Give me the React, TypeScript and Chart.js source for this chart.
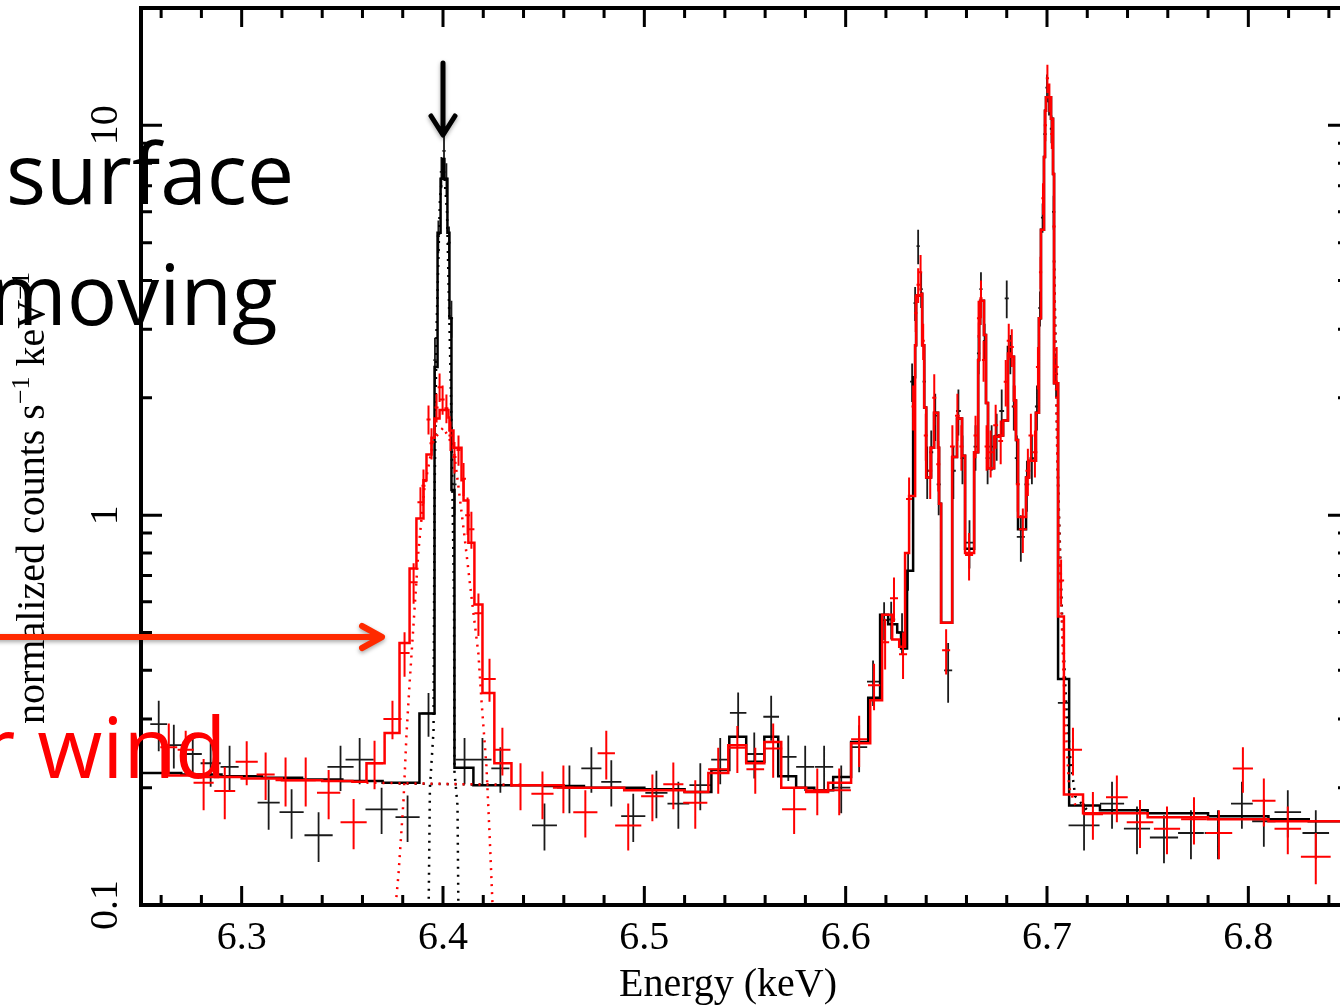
import React, { useEffect, useRef } from "react";
import { Chart, registerables } from "chart.js";

Chart.register(...registerables);

const W = 1352;
const H = 1006;

// axis ranges
const X_MIN = 6.25;
const X_MAX = 6.85;
const Y_MIN = 0.1;
const Y_MAX = 20;

// tick values
const xMajorTicks = [6.3, 6.4, 6.5, 6.6, 6.7, 6.8];
const xTickLabels = ["6.3", "6.4", "6.5", "6.6", "6.7", "6.8"];
const xMinorTicks = [
  6.26, 6.28, 6.32, 6.34, 6.36, 6.38, 6.42, 6.44, 6.46, 6.48, 6.52, 6.54, 6.56, 6.58,
  6.62, 6.64, 6.66, 6.68, 6.72, 6.74, 6.76, 6.78, 6.82, 6.84,
];
const yMajorTicks = [0.1, 1, 10];
const yTickLabels = ["0.1", "1", "10"];
const yMinorTicks = [0.2, 0.3, 0.4, 0.5, 0.6, 0.7, 0.8, 0.9, 2, 3, 4, 5, 6, 7, 8, 9];

// data crosses: [energy keV, half bin width, value, error]
const blackCrosses: number[][] = [
  [6.2588, 0.0042, 0.291, 0.043],
  [6.2663, 0.0047, 0.257, 0.033],
  [6.2757, 0.0045, 0.244, 0.032],
  [6.2846, 0.005, 0.231, 0.03],
  [6.294, 0.0045, 0.226, 0.03],
  [6.3134, 0.0055, 0.183, 0.027],
  [6.3248, 0.006, 0.173, 0.025],
  [6.3382, 0.007, 0.151, 0.022],
  [6.3491, 0.0065, 0.226, 0.03],
  [6.3586, 0.007, 0.236, 0.032],
  [6.3695, 0.008, 0.176, 0.024],
  [6.3824, 0.006, 0.168, 0.023],
  [6.3928, 0.0035, 0.31, 0.04],
  [6.396, 0.0008, 2.5, 0.35],
  [6.3977, 0.0008, 5.2, 0.5],
  [6.3992, 0.0008, 7.6, 0.7],
  [6.4005, 0.0008, 8.6, 0.8],
  [6.4017, 0.0008, 7.3, 0.7],
  [6.403, 0.0008, 5.0, 0.5],
  [6.4042, 0.0008, 3.2, 0.35],
  [6.4057, 0.001, 1.2, 0.2],
  [6.4107, 0.0045, 0.236, 0.032],
  [6.4196, 0.0045, 0.236, 0.032],
  [6.4285, 0.0045, 0.224, 0.03],
  [6.4504, 0.0062, 0.16, 0.022],
  [6.4628, 0.0062, 0.2, 0.028],
  [6.4737, 0.005, 0.224, 0.03],
  [6.4836, 0.005, 0.207, 0.028],
  [6.4945, 0.006, 0.169, 0.024],
  [6.506, 0.0055, 0.194, 0.027],
  [6.5169, 0.0054, 0.182, 0.025],
  [6.5278, 0.0054, 0.203, 0.028],
  [6.5377, 0.0045, 0.236, 0.032],
  [6.5466, 0.0041, 0.311, 0.04],
  [6.5546, 0.0044, 0.244, 0.033],
  [6.563, 0.0039, 0.304, 0.04],
  [6.5715, 0.0041, 0.24, 0.032],
  [6.5799, 0.0045, 0.226, 0.03],
  [6.5893, 0.0045, 0.226, 0.03],
  [6.5978, 0.0045, 0.2, 0.028],
  [6.6067, 0.004, 0.254, 0.035],
  [6.6136, 0.003, 0.374, 0.05],
  [6.6191, 0.002, 0.538, 0.06],
  [6.6226, 0.002, 0.54, 0.06],
  [6.628, 0.002, 0.5, 0.06],
  [6.631, 0.0015, 0.72, 0.08],
  [6.633, 0.001, 2.2, 0.25],
  [6.6345, 0.0008, 3.5, 0.35],
  [6.636, 0.0008, 4.9, 0.5],
  [6.6375, 0.0008, 3.8, 0.4],
  [6.639, 0.0008, 2.2, 0.3],
  [6.6405, 0.001, 1.3, 0.2],
  [6.6425, 0.001, 1.45, 0.2],
  [6.6445, 0.001, 1.8, 0.25],
  [6.6462, 0.001, 1.2, 0.2],
  [6.6509, 0.002, 0.4, 0.07],
  [6.6535, 0.0012, 1.3, 0.2],
  [6.656, 0.0012, 1.85, 0.25],
  [6.658, 0.001, 1.4, 0.2],
  [6.6615, 0.002, 0.85, 0.12],
  [6.6645, 0.001, 1.5, 0.2],
  [6.666, 0.0008, 2.6, 0.3],
  [6.6672, 0.0008, 3.8, 0.4],
  [6.669, 0.0008, 2.8, 0.3],
  [6.6705, 0.001, 1.4, 0.2],
  [6.6725, 0.0012, 1.5, 0.2],
  [6.675, 0.0012, 1.6, 0.22],
  [6.6775, 0.0012, 1.85, 0.25],
  [6.68, 0.001, 3.6, 0.4],
  [6.6818, 0.001, 2.6, 0.3],
  [6.6835, 0.001, 1.9, 0.25],
  [6.685, 0.001, 1.4, 0.2],
  [6.687, 0.002, 0.88, 0.12],
  [6.69, 0.0012, 1.2, 0.18],
  [6.6925, 0.0012, 1.4, 0.2],
  [6.695, 0.001, 1.9, 0.25],
  [6.6965, 0.0008, 3.4, 0.35],
  [6.6978, 0.0008, 5.8, 0.5],
  [6.699, 0.0008, 9.5, 0.8],
  [6.7, 0.0008, 12.5, 1.0],
  [6.701, 0.0008, 11.5, 0.9],
  [6.7022, 0.0008, 9.8, 0.8],
  [6.7033, 0.0008, 6.0, 0.6],
  [6.7045, 0.001, 2.3, 0.3],
  [6.7084, 0.003, 0.33, 0.05],
  [6.7184, 0.0077, 0.16, 0.022],
  [6.7323, 0.006, 0.182, 0.025],
  [6.7447, 0.0065, 0.157, 0.022],
  [6.7581, 0.007, 0.149, 0.021],
  [6.7715, 0.0064, 0.153, 0.022],
  [6.7849, 0.0066, 0.153, 0.022],
  [6.7968, 0.0054, 0.182, 0.025],
  [6.8077, 0.0058, 0.164, 0.023],
  [6.8196, 0.0066, 0.173, 0.024],
  [6.8335, 0.0066, 0.153, 0.022],
];

const redCrosses: number[][] = [
  [6.2638, 0.0042, 0.254, 0.038],
  [6.2722, 0.004, 0.25, 0.03],
  [6.2811, 0.005, 0.206, 0.031],
  [6.2916, 0.0052, 0.196, 0.03],
  [6.3025, 0.0055, 0.233, 0.03],
  [6.3119, 0.0045, 0.216, 0.03],
  [6.3218, 0.005, 0.209, 0.03],
  [6.3318, 0.005, 0.209, 0.03],
  [6.3432, 0.0058, 0.194, 0.028],
  [6.3556, 0.0065, 0.163, 0.024],
  [6.366, 0.0042, 0.231, 0.033],
  [6.3749, 0.0045, 0.3, 0.034],
  [6.3809, 0.0025, 0.443, 0.058],
  [6.3854, 0.002, 0.673, 0.08],
  [6.3888, 0.0015, 1.08, 0.1],
  [6.3903, 0.001, 1.19, 0.12],
  [6.3928, 0.001, 1.76, 0.15],
  [6.3943, 0.001, 1.53, 0.14],
  [6.3968, 0.001, 1.89, 0.16],
  [6.3983, 0.001, 2.13, 0.18],
  [6.3998, 0.001, 1.98, 0.17],
  [6.4017, 0.001, 1.88, 0.16],
  [6.4037, 0.001, 1.6, 0.14],
  [6.4057, 0.001, 1.41, 0.13],
  [6.4077, 0.001, 1.47, 0.13],
  [6.4102, 0.0012, 1.24, 0.12],
  [6.4122, 0.0012, 1.0, 0.11],
  [6.4141, 0.0015, 0.92, 0.1],
  [6.4176, 0.002, 0.56, 0.07],
  [6.4231, 0.0031, 0.38, 0.048],
  [6.4295, 0.004, 0.25, 0.035],
  [6.4385, 0.005, 0.203, 0.028],
  [6.4494, 0.0055, 0.193, 0.027],
  [6.4598, 0.0052, 0.2, 0.028],
  [6.4707, 0.006, 0.173, 0.024],
  [6.4811, 0.0043, 0.245, 0.035],
  [6.492, 0.0065, 0.16, 0.022],
  [6.504, 0.0056, 0.19, 0.026],
  [6.5144, 0.005, 0.204, 0.028],
  [6.5253, 0.006, 0.183, 0.026],
  [6.5367, 0.005, 0.223, 0.03],
  [6.5462, 0.0045, 0.253, 0.035],
  [6.5551, 0.0044, 0.223, 0.03],
  [6.564, 0.0045, 0.252, 0.04],
  [6.5744, 0.006, 0.176, 0.024],
  [6.5859, 0.0054, 0.197, 0.027],
  [6.5968, 0.0058, 0.197, 0.027],
  [6.6067, 0.004, 0.266, 0.04],
  [6.6141, 0.003, 0.366, 0.05],
  [6.6196, 0.002, 0.472, 0.07],
  [6.624, 0.002, 0.612, 0.08],
  [6.6285, 0.002, 0.44, 0.06],
  [6.6315, 0.0015, 1.1, 0.15],
  [6.6335, 0.0008, 1.9, 0.25],
  [6.6348, 0.0008, 3.3, 0.35],
  [6.636, 0.0008, 3.9, 0.4],
  [6.6372, 0.0008, 4.2, 0.45],
  [6.6385, 0.0008, 2.8, 0.3],
  [6.6398, 0.001, 1.6, 0.22],
  [6.642, 0.001, 1.3, 0.2],
  [6.644, 0.001, 2.0, 0.3],
  [6.646, 0.001, 1.35, 0.2],
  [6.6499, 0.002, 0.45, 0.06],
  [6.653, 0.0012, 1.5, 0.2],
  [6.6555, 0.0012, 1.8, 0.25],
  [6.6575, 0.001, 1.5, 0.2],
  [6.6613, 0.002, 0.79, 0.11],
  [6.6645, 0.001, 1.6, 0.2],
  [6.666, 0.0008, 3.2, 0.35],
  [6.6672, 0.0008, 3.6, 0.4],
  [6.6685, 0.0008, 2.5, 0.3],
  [6.67, 0.001, 1.5, 0.2],
  [6.672, 0.0012, 1.45, 0.2],
  [6.6745, 0.0012, 1.7, 0.22],
  [6.677, 0.0012, 1.55, 0.2],
  [6.6795, 0.001, 2.2, 0.3],
  [6.681, 0.001, 2.8, 0.3],
  [6.6825, 0.001, 2.7, 0.3],
  [6.684, 0.001, 1.9, 0.25],
  [6.6855, 0.001, 1.2, 0.18],
  [6.688, 0.002, 0.92, 0.12],
  [6.6905, 0.0012, 1.3, 0.18],
  [6.692, 0.0012, 1.6, 0.22],
  [6.694, 0.0012, 1.45, 0.2],
  [6.6955, 0.001, 2.4, 0.3],
  [6.6968, 0.0008, 4.2, 0.4],
  [6.698, 0.0008, 6.5, 0.6],
  [6.6992, 0.0008, 10.0, 0.9],
  [6.7002, 0.0008, 13.2, 1.1],
  [6.7012, 0.0008, 11.8, 1.0],
  [6.7024, 0.0008, 9.5, 0.8],
  [6.7035, 0.0008, 5.5, 0.5],
  [6.7048, 0.001, 2.4, 0.3],
  [6.707, 0.0015, 0.68, 0.09],
  [6.7129, 0.0045, 0.25, 0.035],
  [6.7228, 0.005, 0.171, 0.024],
  [6.7347, 0.0054, 0.189, 0.026],
  [6.7462, 0.0066, 0.163, 0.023],
  [6.7596, 0.0065, 0.157, 0.022],
  [6.773, 0.0064, 0.166, 0.023],
  [6.7854, 0.0066, 0.153, 0.022],
  [6.7973, 0.005, 0.224, 0.03],
  [6.8077, 0.0058, 0.185, 0.026],
  [6.8196, 0.0066, 0.157, 0.022],
  [6.8335, 0.0074, 0.133, 0.02],
];

// model histograms: bin left edges and values
const blackModelEdges = [
  6.25, 6.27, 6.29, 6.31, 6.33, 6.35, 6.37, 6.3883, 6.3958, 6.3973, 6.3988, 6.3998, 6.4007,
  6.4022, 6.4032, 6.4042, 6.4057, 6.4151, 6.45, 6.47, 6.5, 6.52, 6.5333, 6.5422, 6.5506,
  6.5596, 6.5665, 6.5754, 6.5844, 6.5938, 6.6027, 6.6112, 6.6171, 6.6211, 6.6256, 6.6275,
  6.6305, 6.6335, 6.6345, 6.635, 6.6375, 6.638, 6.639, 6.64, 6.6424, 6.6439, 6.6459, 6.6464,
  6.6474, 6.6529, 6.6553, 6.6578, 6.6593, 6.6638, 6.6658, 6.6663, 6.6668, 6.6687, 6.6697,
  6.6707, 6.6737, 6.6762, 6.6782, 6.6806, 6.6821, 6.6836, 6.6846, 6.6856, 6.6896, 6.6911,
  6.6945, 6.696, 6.697, 6.6985, 6.699, 6.6995, 6.702, 6.703, 6.7035, 6.7055, 6.711, 6.7263,
  6.75, 6.78, 6.81, 6.83, 6.85,
];
const blackModelValues = [
  0.218, 0.216, 0.214, 0.212, 0.21, 0.208, 0.206, 0.31, 2.4, 5.3, 7.3, 8.2, 7.3, 5.3, 3.2,
  1.16, 0.225, 0.203, 0.202, 0.2, 0.198, 0.195, 0.222, 0.27, 0.233, 0.27, 0.214, 0.2, 0.197,
  0.213, 0.262, 0.34, 0.555, 0.525, 0.5, 0.455, 0.72, 2.26, 2.73, 3.66, 3.7, 2.73, 1.89,
  1.25, 1.49, 1.83, 1.49, 1.07, 0.53, 1.41, 1.77, 1.42, 0.82, 1.45, 2.5, 3.1, 3.55, 2.9,
  1.94, 1.32, 1.59, 1.6, 1.75, 2.7, 2.55, 1.97, 1.56, 0.92, 1.25, 1.38, 1.83, 3.2, 5.4, 8.3,
  10.9, 11.8, 10.4, 7.5, 2.18, 0.38, 0.18, 0.175, 0.172, 0.169, 0.166, 0.164, 0.164,
];

const redModelEdges = [
  6.2603, 6.28, 6.3, 6.32, 6.34, 6.355, 6.362, 6.371, 6.3784, 6.3834, 6.3868, 6.3903, 6.3918,
  6.3943, 6.3958, 6.3983, 6.4027, 6.4032, 6.4052, 6.4092, 6.4102, 6.4126, 6.4156, 6.4196,
  6.4255, 6.434, 6.46, 6.49, 6.52, 6.5318, 6.5417, 6.5506, 6.5596, 6.568, 6.5804, 6.5913,
  6.6027, 6.6122, 6.6181, 6.6231, 6.6266, 6.6295, 6.6315, 6.6345, 6.635, 6.6375, 6.638,
  6.639, 6.64, 6.6424, 6.6439, 6.6459, 6.6464, 6.6474, 6.6529, 6.6553, 6.6578, 6.6593,
  6.6638, 6.6658, 6.6663, 6.6668, 6.6687, 6.6697, 6.6707, 6.6737, 6.6762, 6.6782, 6.6806,
  6.6821, 6.6836, 6.6846, 6.6856, 6.6896, 6.6911, 6.6945, 6.696, 6.697, 6.6985, 6.699,
  6.6995, 6.702, 6.703, 6.7035, 6.7055, 6.7084, 6.7179, 6.75, 6.78, 6.81, 6.85,
];
const redModelValues = [
  0.215, 0.213, 0.211, 0.209, 0.208, 0.207, 0.231, 0.276, 0.47, 0.73, 0.98, 1.23, 1.43,
  1.58, 1.77, 1.86, 1.78, 1.65, 1.49, 1.23, 1.09, 0.85, 0.59, 0.35, 0.231, 0.203, 0.2,
  0.197, 0.195, 0.218, 0.257, 0.231, 0.262, 0.2, 0.195, 0.206, 0.26, 0.335, 0.555, 0.48,
  0.46, 0.8, 1.12, 2.73, 3.66, 3.7, 2.73, 1.89, 1.25, 1.49, 1.83, 1.49, 1.07, 0.53, 1.41,
  1.77, 1.42, 0.8, 1.45, 2.5, 3.1, 3.55, 2.9, 1.94, 1.32, 1.59, 1.6, 1.75, 2.6, 2.55, 1.97,
  1.56, 0.99, 1.25, 1.38, 1.83, 3.2, 5.4, 8.3, 10.9, 11.8, 10.4, 7.5, 2.18, 0.55, 0.192,
  0.172, 0.168, 0.166, 0.164, 0.163,
];

// dotted model components
const blackLineCompE = [
  6.3928, 6.3935, 6.3953, 6.3958, 6.3968, 6.3985, 6.4002, 6.402, 6.404, 6.4055, 6.4057,
  6.4072, 6.4077,
];
const blackLineCompV = [0.09, 0.2, 0.28, 1.1, 3.0, 6.5, 8.0, 6.0, 2.0, 0.6, 0.22, 0.18, 0.09];
const redLineCompE = [
  6.3765, 6.3779, 6.3804, 6.3819, 6.3834, 6.3878, 6.3908, 6.3953, 6.4002, 6.4052, 6.4077,
  6.4107, 6.4141, 6.4176, 6.4191, 6.4216, 6.4231, 6.4246,
];
const redLineCompV = [
  0.1, 0.12, 0.186, 0.276, 0.37, 0.81, 1.18, 1.56, 1.68, 1.49, 1.18, 0.88, 0.62, 0.44,
  0.335, 0.226, 0.153, 0.1,
];
const blackPlasmaE = [6.378, 6.44, 6.7035, 6.7055, 6.7075, 6.7095, 6.7115, 6.714, 6.72];
const blackPlasmaV = [0.205, 0.203, 4.5, 1.2, 0.55, 0.33, 0.24, 0.19, 0.175];
const redPlasmaE = [6.362, 6.44, 6.7035, 6.705, 6.707, 6.709, 6.711, 6.715];
const redPlasmaV = [0.206, 0.203, 4.5, 1.5, 0.6, 0.3, 0.2, 0.175];

const RED = "#ff0000";
const BLACK = "#000000";
const SERIF = "'Liberation Serif', 'Times New Roman', serif";
const SANS = "'Open Sans', 'Noto Sans', sans-serif";

function stepData(edges: number[], values: number[]) {
  const pts = edges.map((e, i) => ({ x: e, y: values[Math.min(i, values.length - 1)] }));
  return pts;
}

const specPlugin = {
  id: "specPlugin",
  afterDatasetDraw(chart: any, args: any) {
    const ds = chart.data.datasets[args.index] as any;
    if (!ds.crosses) return;
    const { ctx, chartArea } = chart;
    const xs = chart.scales.x;
    const ys = chart.scales.y;
    ctx.save();
    ctx.beginPath();
    ctx.rect(chartArea.left, chartArea.top, chartArea.right - chartArea.left, chartArea.bottom - chartArea.top);
    ctx.clip();
    ctx.strokeStyle = ds.crossColor;
    ctx.lineWidth = ds.crossWidth;
    ctx.beginPath();
    for (const [e, hw, v, err] of ds.crosses) {
      const px = xs.getPixelForValue(e);
      const py = ys.getPixelForValue(v);
      ctx.moveTo(xs.getPixelForValue(e - hw), py);
      ctx.lineTo(xs.getPixelForValue(e + hw), py);
      const lo = Math.max(v - err, 0.01);
      ctx.moveTo(px, ys.getPixelForValue(lo));
      ctx.lineTo(px, ys.getPixelForValue(v + err));
    }
    ctx.stroke();
    ctx.restore();
  },
  afterDraw(chart: any) {
    const { ctx, chartArea } = chart;
    const xs = chart.scales.x;
    const ys = chart.scales.y;
    const { left, right, top, bottom } = chartArea;
    ctx.save();
    // frame
    ctx.strokeStyle = BLACK;
    ctx.lineWidth = 4;
    ctx.strokeRect(left, top, right - left, bottom - top);
    // ticks
    ctx.lineWidth = 3;
    ctx.beginPath();
    const xt = (vals: number[], len: number) => {
      for (const v of vals) {
        const p = xs.getPixelForValue(v);
        ctx.moveTo(p, bottom);
        ctx.lineTo(p, bottom - len);
        ctx.moveTo(p, top);
        ctx.lineTo(p, top + len);
      }
    };
    const yt = (vals: number[], len: number) => {
      for (const v of vals) {
        const p = ys.getPixelForValue(v);
        ctx.moveTo(left, p);
        ctx.lineTo(left + len, p);
        ctx.moveTo(right, p);
        ctx.lineTo(right - len, p);
      }
    };
    xt(xMajorTicks, 19);
    xt(xMinorTicks, 10);
    yt(yMajorTicks, 21);
    yt(yMinorTicks, 11);
    ctx.stroke();

    // tick labels
    ctx.fillStyle = BLACK;
    ctx.font = `40px ${SERIF}`;
    ctx.textAlign = "center";
    ctx.textBaseline = "alphabetic";
    xMajorTicks.forEach((v, i) => {
      ctx.fillText(xTickLabels[i], xs.getPixelForValue(v), 949);
    });
    yMajorTicks.forEach((v, i) => {
      ctx.save();
      ctx.translate(117, ys.getPixelForValue(v));
      ctx.rotate(-Math.PI / 2);
      ctx.fillText(yTickLabels[i], 0, 0);
      ctx.restore();
    });
    // axis titles
    ctx.fillText("Energy (keV)", 728, 996);
    ctx.save();
    ctx.translate(44, 724);
    ctx.rotate(-Math.PI / 2);
    ctx.textAlign = "left";
    let u = 0;
    const part = (t: string, size: number, raise: number) => {
      ctx.font = `${size}px ${SERIF}`;
      ctx.fillText(t, u, -raise);
      u += ctx.measureText(t).width;
    };
    part("normalized counts s", 40, 0);
    part("\u22121", 26, 15);
    part(" keV", 40, 0);
    part("\u22121", 26, 15);
    ctx.restore();

    // annotations: black arrow at 6.4 keV
    const ax = xs.getPixelForValue(6.4);
    ctx.save();
    ctx.shadowColor = "rgba(0,0,0,0.35)";
    ctx.shadowBlur = 4;
    ctx.shadowOffsetY = 2;
    ctx.strokeStyle = BLACK;
    ctx.lineWidth = 5;
    ctx.lineCap = "round";
    ctx.lineJoin = "round";
    ctx.beginPath();
    ctx.moveTo(ax, 63);
    ctx.lineTo(ax, 134);
    ctx.moveTo(ax - 12, 116);
    ctx.lineTo(ax, 135);
    ctx.lineTo(ax + 12, 116);
    ctx.stroke();
    // red arrow
    ctx.strokeStyle = "#ff2a00";
    ctx.lineWidth = 6;
    ctx.beginPath();
    ctx.moveTo(-10, 637);
    ctx.lineTo(381, 637);
    ctx.moveTo(362, 626);
    ctx.lineTo(382, 637);
    ctx.lineTo(362, 648);
    ctx.stroke();
    ctx.restore();

    // overlay words
    ctx.textAlign = "left";
    ctx.textBaseline = "alphabetic";
    ctx.font = `84px ${SANS}`;
    ctx.fillStyle = BLACK;
    ctx.fillText("surface", 6, 204);
    ctx.fillText("moving", -11, 325);
    ctx.fillStyle = RED;
    ctx.fillText("r wind", -19, 778);
    ctx.restore();
  },
};

export default function App() {
  const ref = useRef<HTMLCanvasElement>(null);
  useEffect(() => {
    if (!ref.current) return;
    const chart = new Chart(ref.current, {
      type: "scatter",
      data: {
        datasets: [
          {
            label: "red model",
            data: stepData(redModelEdges, redModelValues),
            showLine: true,
            stepped: true,
            borderColor: RED,
            borderWidth: 2.5,
            pointRadius: 0,
            order: 1,
          } as any,
          {
            label: "red data",
            data: redCrosses.map((r) => ({ x: r[0], y: r[2] })),
            crosses: redCrosses,
            crossColor: RED,
            crossWidth: 2,
            pointRadius: 0,
            order: 2,
          } as any,
          {
            label: "red gaussian",
            data: redLineCompE.map((e, i) => ({ x: e, y: redLineCompV[i] })),
            showLine: true,
            borderColor: RED,
            borderWidth: 2.5,
            borderDash: [2, 6],
            pointRadius: 0,
            order: 3,
          } as any,
          {
            label: "red plasma",
            data: redPlasmaE.map((e, i) => ({ x: e, y: redPlasmaV[i] })),
            showLine: true,
            borderColor: RED,
            borderWidth: 2.5,
            borderDash: [2, 6],
            pointRadius: 0,
            segment: { borderColor: (c: any) => (c.p0DataIndex === 1 ? "rgba(0,0,0,0)" : RED) },
            order: 4,
          } as any,
          {
            label: "black model",
            data: stepData(blackModelEdges, blackModelValues),
            showLine: true,
            stepped: true,
            borderColor: BLACK,
            borderWidth: 2.5,
            pointRadius: 0,
            order: 5,
          } as any,
          {
            label: "black gaussian",
            data: blackLineCompE.map((e, i) => ({ x: e, y: blackLineCompV[i] })),
            showLine: true,
            borderColor: BLACK,
            borderWidth: 2.5,
            borderDash: [2, 6],
            pointRadius: 0,
            order: 6,
          } as any,
          {
            label: "black plasma",
            data: blackPlasmaE.map((e, i) => ({ x: e, y: blackPlasmaV[i] })),
            showLine: true,
            borderColor: BLACK,
            borderWidth: 2.5,
            borderDash: [2, 6],
            pointRadius: 0,
            segment: { borderColor: (c: any) => (c.p0DataIndex === 1 ? "rgba(0,0,0,0)" : BLACK) },
            order: 7,
          } as any,
          {
            label: "black data",
            data: blackCrosses.map((r) => ({ x: r[0], y: r[2] })),
            crosses: blackCrosses,
            crossColor: "#1a1a1a",
            crossWidth: 1.8,
            pointRadius: 0,
            order: 8,
          } as any,
        ],
      },
      options: {
        responsive: false,
        animation: false,
        devicePixelRatio: 1,
        layout: { padding: { left: 141, right: W - 1349, top: 8, bottom: H - 905 } },
        plugins: { legend: { display: false }, tooltip: { enabled: false } },
        scales: {
          x: { type: "linear", min: X_MIN, max: X_MAX, display: false },
          y: { type: "logarithmic", min: Y_MIN, max: Y_MAX, display: false },
        },
      } as any,
      plugins: [specPlugin],
    });
    return () => chart.destroy();
  }, []);
  return (
    <div style={{ position: "fixed", left: 0, top: 0, width: W, height: H, background: "#fff" }}>
      <canvas ref={ref} width={W} height={H} style={{ width: W, height: H, display: "block" }} />
    </div>
  );
}
